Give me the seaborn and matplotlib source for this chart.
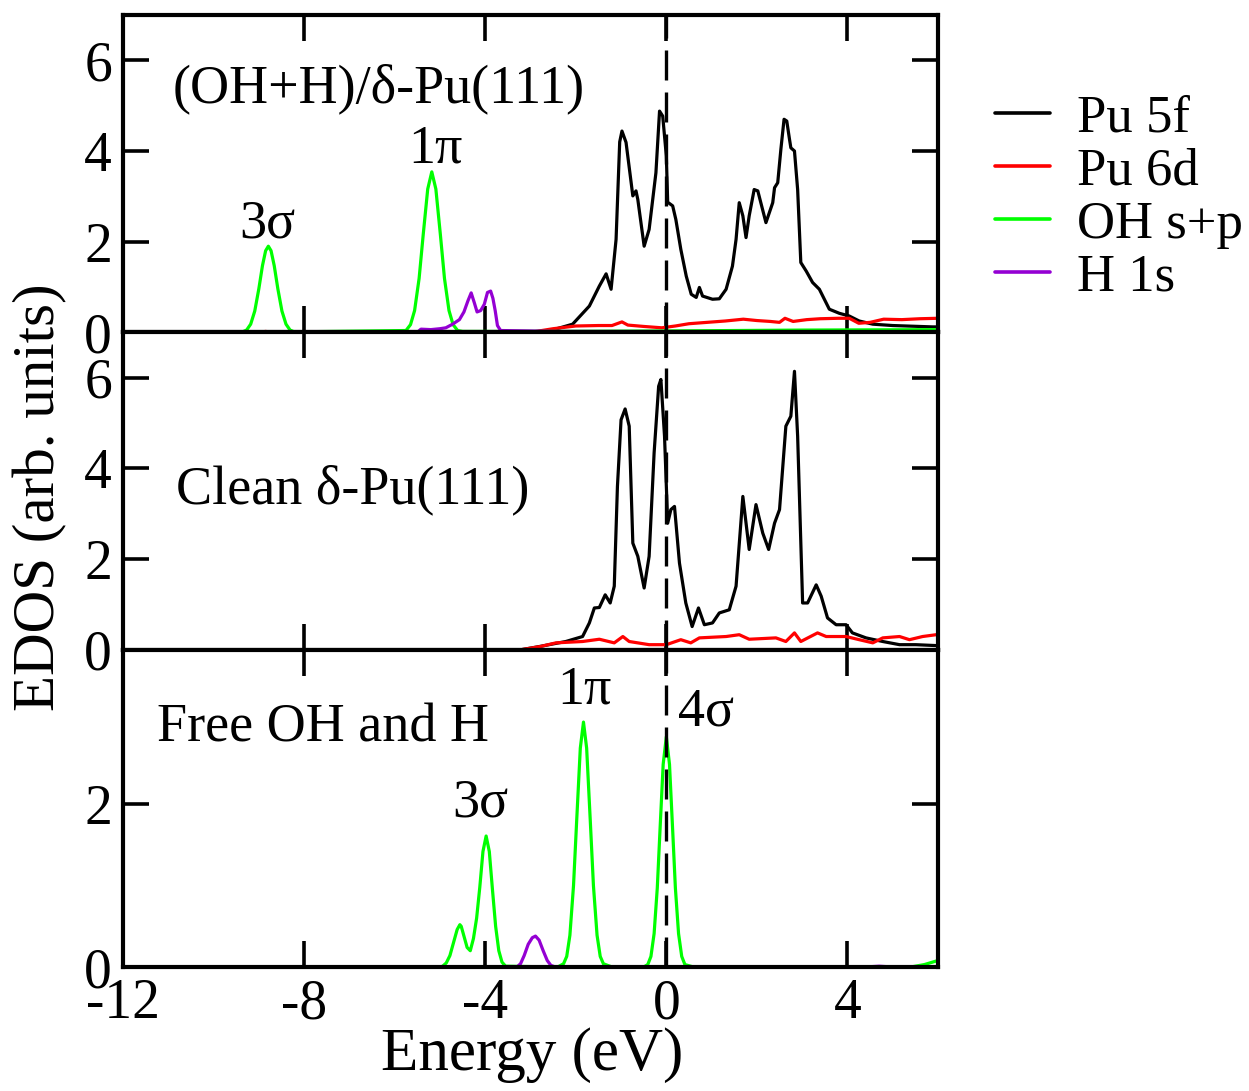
import numpy as np
import pandas as pd
import seaborn as sns
import matplotlib
matplotlib.use("Agg")
import matplotlib.pyplot as plt

# ---- datos ----
orbitales = ["Pu 5f", "Pu 6d", "OH s+p", "H 1s"]
colores = {"Pu 5f": "#000000", "Pu 6d": "#ff0000",
           "OH s+p": "#00ff00", "H 1s": "#9400d3"}
xticks = [-12, -8, -4, 0, 4]

# panel superior: (OH+H)/delta-Pu(111)
sup_5f_x = [-12, -3.0, -2.52, -2.07, -1.70, -1.48, -1.33, -1.22, -1.11, -1.03,
            -0.98, -0.89, -0.74, -0.67, -0.63, -0.49, -0.38, -0.23, -0.15,
            -0.08, 0.0, 0.03, 0.14, 0.21, 0.32, 0.44, 0.55, 0.66, 0.73, 0.80,
            1.02, 1.17, 1.32, 1.46, 1.54, 1.61, 1.69, 1.76, 1.83, 1.94, 2.02,
            2.20, 2.35, 2.39, 2.46, 2.53, 2.60, 2.66, 2.72, 2.75, 2.83, 2.90,
            2.97, 3.09, 3.23, 3.38, 3.60, 3.82, 4.04, 4.26, 4.56, 5.00, 5.88,
            6.0]
sup_5f_y = [0.0, 0.0, 0.05, 0.18, 0.58, 1.02, 1.29, 0.95, 2.05, 4.20,
            4.44, 4.19, 3.01, 3.12, 2.93, 1.90, 2.27, 3.52, 4.88,
            4.77, 3.89, 2.87, 2.79, 2.49, 1.83, 1.24, 0.84, 0.77, 0.99, 0.80,
            0.73, 0.74, 0.95, 1.46, 2.05, 2.86, 2.57, 2.09, 2.57, 3.15, 3.12,
            2.42, 2.86, 3.19, 3.30, 4.04, 4.70, 4.66, 4.26, 4.07, 4.00, 3.15,
            1.54, 1.35, 1.10, 0.95, 0.51, 0.42, 0.36, 0.25, 0.18, 0.15, 0.12,
            0.12]
sup_6d_x = [-12, -9.0, -8.85, -8.7, -3.0, -2.5, -2.0, -1.5, -1.2, -0.98, -0.85,
            -0.5, -0.1, 0.2, 0.5, 0.9, 1.3, 1.7, 2.0, 2.3, 2.5, 2.62, 2.8,
            3.1, 3.4, 3.8, 4.04, 4.25, 4.5, 4.8, 5.2, 5.6, 6.0]
sup_6d_y = [0.0, 0.0, 0.02, 0.0, 0.0, 0.08, 0.14, 0.15, 0.15, 0.23, 0.16,
            0.13, 0.10, 0.14, 0.19, 0.22, 0.25, 0.29, 0.26, 0.24, 0.22, 0.31,
            0.24, 0.28, 0.30, 0.31, 0.31, 0.20, 0.22, 0.29, 0.28, 0.30, 0.31]
sup_oh_x = [-12, -9.36, -9.27, -9.18, -9.09, -9.00, -8.92, -8.85, -8.79, -8.73,
            -8.66, -8.58, -8.49, -8.40, -8.31, -8.22,
            -5.75, -5.65, -5.56, -5.46, -5.37, -5.27, -5.18, -5.09, -4.99,
            -4.90, -4.80, -4.71, -4.61, -4.5, -2.5, 0.0, 3.0, 6.0]
sup_oh_y = [0.0, 0.01, 0.05, 0.18, 0.47, 0.96, 1.47, 1.80, 1.90, 1.80,
            1.47, 0.96, 0.47, 0.18, 0.05, 0.01,
            0.04, 0.17, 0.48, 1.19, 2.15, 3.16, 3.54, 3.16, 2.15,
            1.19, 0.48, 0.17, 0.04, 0.02, 0.02, 0.03, 0.05, 0.06]
sup_h_x = [-12, -5.5, -5.42, -5.2, -5.0, -4.87, -4.72, -4.57, -4.47, -4.38,
           -4.31, -4.24, -4.18, -4.10, -4.02, -3.95, -3.88, -3.83, -3.78,
           -3.73, -3.66, -3.0, -2.5, 6.0]
sup_h_y = [0.0, 0.0, 0.07, 0.06, 0.08, 0.10, 0.18, 0.28, 0.45, 0.70,
           0.87, 0.65, 0.45, 0.48, 0.62, 0.88, 0.91, 0.75, 0.48,
           0.15, 0.04, 0.03, 0.02, 0.01]

# panel central: delta-Pu(111) limpio
med_5f_x = [-12, -3.2, -2.80, -2.22, -1.85, -1.70, -1.59, -1.48, -1.35, -1.24,
            -1.15, -1.08, -1.00, -0.91, -0.82, -0.74, -0.63, -0.49, -0.38,
            -0.27, -0.17, -0.12, -0.04, 0.03, 0.10, 0.18, 0.29, 0.43, 0.57,
            0.71, 0.84, 1.02, 1.17, 1.39, 1.54, 1.69, 1.83, 1.98, 2.13, 2.26,
            2.39, 2.50, 2.64, 2.75, 2.83, 2.90, 3.01, 3.12, 3.31, 3.42, 3.56,
            3.75, 3.97, 4.11, 4.41, 4.78, 5.15, 5.51, 5.96, 6.0]
med_5f_y = [0.0, 0.0, 0.07, 0.18, 0.29, 0.59, 0.92, 0.93, 1.21, 1.03,
            1.40, 3.60, 5.07, 5.31, 4.93, 2.35, 2.06, 1.36, 2.06,
            4.34, 5.81, 5.96, 4.71, 2.79, 3.09, 3.16, 1.91, 1.03, 0.51,
            0.92, 0.55, 0.59, 0.81, 0.88, 1.40, 3.38, 2.21, 3.20, 2.57, 2.21,
            2.79, 3.09, 4.93, 5.15, 6.14, 4.71, 1.03, 1.03, 1.43, 1.18, 0.70,
            0.55, 0.55, 0.37, 0.26, 0.18, 0.11, 0.11, 0.09, 0.09]
med_6d_x = [-12, -3.2, -2.78, -2.44, -1.85, -1.48, -1.15, -0.96, -0.82, -0.38,
            0.0, 0.32, 0.54, 0.73, 1.32, 1.61, 1.83, 2.42, 2.64, 2.83, 2.97,
            3.34, 3.53, 3.97, 4.26, 4.56, 4.78, 5.15, 5.37, 5.66, 5.96]
med_6d_y = [0.0, 0.0, 0.07, 0.15, 0.18, 0.23, 0.15, 0.29, 0.18, 0.11,
            0.11, 0.22, 0.15, 0.26, 0.29, 0.33, 0.23, 0.26, 0.18, 0.37, 0.18,
            0.37, 0.29, 0.29, 0.22, 0.15, 0.26, 0.29, 0.22, 0.29, 0.33]

# panel inferior: OH y H libres
inf_oh_x = [-12, -5.0, -4.94, -4.86, -4.78, -4.70, -4.62, -4.56, -4.53, -4.47,
            -4.40, -4.33, -4.26, -4.19, -4.12, -4.05, -3.98, -3.91, -3.84,
            -3.77, -3.70, -3.63, -3.55, -2.4,
            -2.27, -2.20, -2.13, -2.05, -1.98, -1.90, -1.83, -1.76, -1.68,
            -1.61, -1.53, -1.46, -1.39, -1.2, -0.5,
            -0.41, -0.34, -0.27, -0.20, -0.14, -0.07, 0.0, 0.07, 0.14, 0.20,
            0.27, 0.34, 0.41, 0.6, 5.4, 5.7, 6.0]
inf_oh_y = [0.0, 0.0, 0.01, 0.05, 0.14, 0.30, 0.46, 0.52, 0.50, 0.38,
            0.24, 0.20, 0.35, 0.60, 0.98, 1.42, 1.61, 1.42, 0.95,
            0.50, 0.20, 0.06, 0.01, 0.0,
            0.04, 0.13, 0.39, 1.00, 1.80, 2.69, 3.01, 2.69, 1.80,
            1.00, 0.39, 0.13, 0.04, 0.0, 0.0,
            0.03, 0.13, 0.41, 0.97, 1.68, 2.49, 2.83, 2.49, 1.68, 0.97,
            0.41, 0.13, 0.03, 0.0, 0.0, 0.03, 0.08]
inf_h_x = [-12, -3.30, -3.22, -3.14, -3.05, -2.96, -2.89, -2.81, -2.72, -2.63,
           -2.55, -2.45, 4.4, 4.7, 5.0, 6.0]
inf_h_y = [0.0, 0.0, 0.04, 0.14, 0.28, 0.36, 0.38, 0.33, 0.20, 0.08,
           0.02, 0.0, 0.0, 0.01, 0.0, 0.0]


def tabla(series):
    """Arma un DataFrame largo a partir de (orbital, x, y)."""
    partes = [pd.DataFrame({"energia": x, "edos": y, "orbital": nombre})
              for nombre, x, y in series]
    return pd.concat(partes, ignore_index=True)


paneles = [
    tabla([("Pu 5f", sup_5f_x, sup_5f_y), ("Pu 6d", sup_6d_x, sup_6d_y),
           ("OH s+p", sup_oh_x, sup_oh_y), ("H 1s", sup_h_x, sup_h_y)]),
    tabla([("Pu 5f", med_5f_x, med_5f_y), ("Pu 6d", med_6d_x, med_6d_y)]),
    tabla([("OH s+p", inf_oh_x, inf_oh_y), ("H 1s", inf_h_x, inf_h_y)]),
]

sns.set_style("ticks")
plt.rcParams["font.family"] = ["Liberation Serif", "DejaVu Serif"]
plt.rcParams["axes.unicode_minus"] = False
for k in ["text.color", "axes.labelcolor", "xtick.color", "ytick.color",
          "axes.edgecolor"]:
    plt.rcParams[k] = "black"

fig = plt.figure(figsize=(12.49, 10.91), dpi=100)
izq, der, arriba, abajo = 123 / 1249, 938 / 1249, 1 - 15 / 1091, 1 - 967 / 1091
alto = (arriba - abajo) / 3
axes = [fig.add_axes([izq, arriba - alto * (i + 1), der - izq, alto])
        for i in range(3)]

ylims = [(0, 7.0), (0, 7.0), (0, 3.9)]
yticks = [[0, 2, 4, 6], [0, 2, 4, 6], [0, 2]]
fs_tick = 40
fs = 39

for i, (ax, df) in enumerate(zip(axes, paneles)):
    orden = [o for o in orbitales if o in df["orbital"].unique()]
    sns.lineplot(data=df, x="energia", y="edos", hue="orbital",
                 hue_order=orden, palette=colores, estimator=None,
                 lw=2.3, ax=ax, legend=(i == 0))
    ax.axvline(0, color="k", lw=2.4, dashes=(9, 3.6), zorder=5)
    ax.set_xlim(-12, 6)
    ax.set_ylim(*ylims[i])
    ax.set_xticks(xticks)
    ax.set_yticks(yticks[i])
    ax.set_xlabel("")
    ax.set_ylabel("")
    ax.tick_params(direction="in", top=True, right=True, length=19,
                   width=2.6, labelsize=fs_tick, pad=8)
    if i < 2:
        ax.tick_params(labelbottom=False)
    for s in ax.spines.values():
        s.set_linewidth(3.0)

# leyenda fuera del panel
h, l = axes[0].get_legend_handles_labels()
axes[0].get_legend().remove()
for hd in h:
    hd.set_linewidth(2.6)
fig.legend(h, l, loc="upper left", bbox_to_anchor=(995 / 1249, 1 - 94 / 1091),
           frameon=False, fontsize=38, handlelength=1.05, handletextpad=0.5,
           labelspacing=0.1, borderpad=0, borderaxespad=0)

# etiquetas dentro de los paneles
axes[0].text(-10.9, 5.36, "(OH+H)/δ-Pu(111)", fontsize=fs, va="center")
axes[0].text(-8.81, 2.38, "3σ", fontsize=fs, ha="center", va="center")
axes[0].text(-5.1, 4.04, "1π", fontsize=fs, ha="center", va="center")
axes[1].text(-10.84, 3.53, "Clean δ-Pu(111)", fontsize=fs, va="center")
axes[2].text(-11.26, 2.93, "Free OH and H", fontsize=fs, va="center")
axes[2].text(-4.1, 2.01, "3σ", fontsize=fs, ha="center", va="center")
axes[2].text(-1.81, 3.40, "1π", fontsize=fs, ha="center", va="center")
axes[2].text(0.88, 3.13, "4σ", fontsize=fs, ha="center", va="center")

fig.text(40 / 1249, 1 - 497 / 1091, "EDOS (arb. units)", rotation=90,
         ha="center", va="center", fontsize=42.5)
fig.text(532 / 1249, 1 - 1055 / 1091, "Energy (eV)", ha="center",
         va="center", fontsize=44)

fig.savefig("out.png", dpi=100)
